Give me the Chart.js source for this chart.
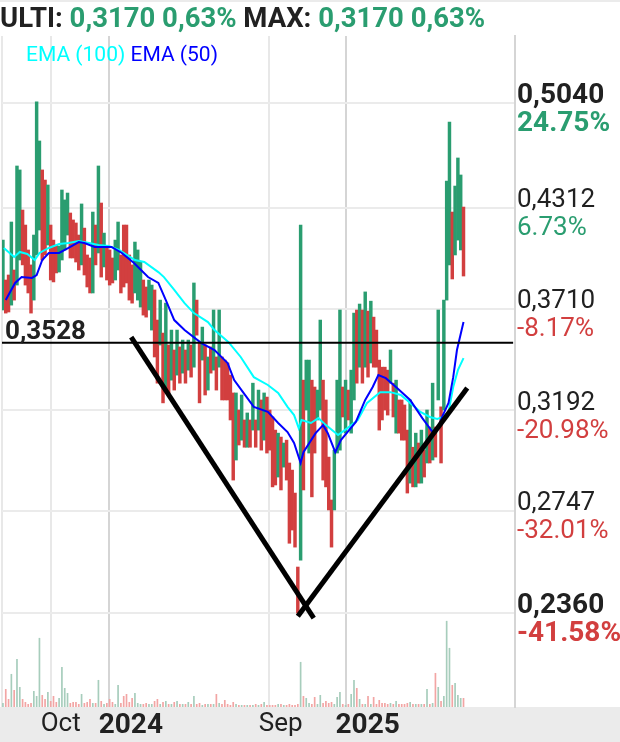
<!DOCTYPE html>
<html>
<head>
<meta charset="utf-8">
<script src="https://cdn.jsdelivr.net/npm/chart.js@4.4.1/dist/chart.umd.min.js"></script>
<style>
  html, body { margin: 0; padding: 0; background: #ffffff; }
  canvas { display: block; }
</style>
</head>
<body>
<canvas id="chart" width="620" height="742"></canvas>
<script>
// ---- price bars (one bar = 3 trading days), open / close ----
const opens = [
  0.3704,0.3873,0.3902,0.3731,0.3931,0.3844,0.3990,0.4298,0.4203,0.4050,
  0.3961,0.3759,0.4020,0.4172,0.4562,0.4494,0.4080,0.4203,0.4110,0.4080,
  0.3919,0.3990,0.4050,0.4141,0.4279,0.4235,0.4216,0.4141,0.3961,0.4184,
  0.4020,0.4002,0.3799,0.4203,0.4032,0.4343,0.3949,0.4068,0.4050,0.4002,
  0.3873,0.3931,0.4020,0.4203,0.4203,0.4020,0.3961,0.3799,0.3759,0.3720,
  0.3873,0.3833,0.3704,0.3595,0.3816,0.3649,0.3516,0.3579,0.3288,0.3516,
  0.3337,0.3490,0.3362,0.3506,0.3372,0.3490,0.3387,0.3516,0.3402,0.3759,
  0.3526,0.3438,0.3516,0.3288,0.3506,0.3387,0.3454,0.3402,0.3454,0.3438,
  0.3423,0.3362,0.3274,0.2963,0.3192,0.3052,0.3145,0.3020,0.3145,0.3098,
  0.3145,0.3098,0.3240,0.3052,0.3254,0.3192,0.3159,0.3098,0.2889,0.3066,
  0.2932,0.3052,0.2950,0.2919,0.2821,0.2527,0.2553,0.3337,0.3192,0.2994,
  0.3337,0.3303,0.3145,0.3192,0.3337,0.3240,0.2976,0.2792,0.2751,0.2994,
  0.3007,0.3303,0.3084,0.3288,0.3084,0.3240,0.3704,0.3402,0.3704,0.3402,
  0.3698,0.3423,0.3665,0.3595,0.3438,0.3402,0.3402,0.3387,0.3322,0.3322,
  0.3084,0.3240,0.3240,0.3216,0.3098,0.2863,0.3020,0.2847,0.3039,0.2863,
  0.3007,0.2950,0.3112,0.2963,0.3112,0.3240,0.3207,0.3192,0.3759,0.3961,
  0.4285,0.4020,0.4110,0.4050,0.4317
];
const closes = [
  0.4110,0.3687,0.3693,0.4222,0.3759,0.4589,0.4562,0.3961,0.3844,0.3799,
  0.3687,0.4141,0.5048,0.4763,0.3990,0.4020,0.4461,0.3873,0.3862,0.3914,
  0.4074,0.4428,0.4363,0.4408,0.4002,0.4002,0.3978,0.3931,0.4337,0.3902,
  0.3833,0.3799,0.4285,0.3961,0.4589,0.3890,0.4153,0.3873,0.3844,0.3856,
  0.4110,0.4222,0.3799,0.3833,0.3856,0.3759,0.3742,0.4098,0.4050,0.3978,
  0.3676,0.3665,0.3873,0.3844,0.3454,0.3322,0.3759,0.3226,0.3742,0.3274,
  0.3595,0.3288,0.3595,0.3322,0.3542,0.3322,0.3542,0.3352,0.3856,0.3568,
  0.3226,0.3611,0.3264,0.3454,0.3372,0.3704,0.3288,0.3704,0.3240,0.3240,
  0.3240,0.3145,0.2876,0.3274,0.3030,0.3264,0.3020,0.3178,0.3020,0.3322,
  0.3020,0.3288,0.3007,0.3274,0.2994,0.3007,0.2847,0.2855,0.3084,0.2834,
  0.3039,0.2876,0.2618,0.2670,0.2603,0.2360,0.4203,0.2834,0.3438,0.3438,
  0.2805,0.2994,0.3288,0.3649,0.2876,0.2847,0.2751,0.2603,0.3007,0.3337,
  0.3704,0.3159,0.3337,0.3145,0.3387,0.3687,0.3322,0.3737,0.3322,0.3805,
  0.3352,0.3753,0.3402,0.3402,0.3098,0.3145,0.3192,0.3168,0.3490,0.3159,
  0.3337,0.3084,0.3052,0.3052,0.2821,0.3240,0.2847,0.3084,0.2863,0.3098,
  0.2889,0.3192,0.2950,0.3322,0.2976,0.3704,0.2950,0.3759,0.4487,0.4899,
  0.3879,0.4454,0.4644,0.4528,0.3896
];
// volume per bar (thousand shares)
const volumes = [
  4,18,8,33,17,48,20,8,5,3, 4,16,11,69,12,8,15,6,11,5,
  9,40,19,14,4,5,5,3,13,4, 5,8,4,4,27,6,3,4,8,5,
  3,22,4,11,13,5,9,14,4,3, 3,4,3,3,6,8,3,5,6,3,
  3,5,6,3,3,3,5,3,11,3, 4,2,3,3,3,3,13,4,3,7,
  3,2,5,3,2,2,2,2,2,2, 3,2,3,5,2,2,2,2,3,3,
  2,2,3,2,2,3,45,11,9,4, 3,10,3,12,4,6,4,5,3,10,
  15,3,2,3,13,27,19,8,3,3, 11,3,10,3,7,4,4,3,4,3,
  6,3,3,3,4,5,3,3,3,3, 3,18,3,4,34,20,6,11,86,59,
  22,24,12,9,9
];
const daysPerBar = 3;

// ---- moving averages (trading day, price) ----
const ema50Days = [3,13,20,31,36,42,49,60,70,81,87,98,116,127,140,155,166,174,183,194,
  212,226,240,247,257,268,283,294,304,311,318,321,334,342,347,355,361,368,377,387,
  395,401,409,421,435,448,459,465,470,476,481,485,492];
const ema50 = [0.3759,0.3856,0.3890,0.3885,0.3902,0.3990,0.4032,0.4032,0.4062,0.4098,
  0.4092,0.4068,0.4068,0.4032,0.3972,0.3890,0.3856,0.3759,0.3649,0.3595,
  0.3526,0.3490,0.3423,0.3337,0.3274,0.3207,0.3183,0.3131,0.3089,0.3039,
  0.2950,0.2998,0.3084,0.3121,0.3084,0.2998,0.3052,0.3089,0.3136,0.3240,
  0.3303,0.3362,0.3347,0.3298,0.3240,0.3154,0.3089,0.3112,0.3168,0.3226,
  0.3352,0.3490,0.3638];
const ema100Days = [1,12,18,26,34,39,49,60,70,81,92,102,113,124,141,151,166,172,183,194,
  204,219,226,241,254,268,283,294,304,311,316,319,329,337,345,358,368,379,389,403,
  414,425,435,446,456,464,470,476,481,486,492];
const ema100 = [0.4062,0.4008,0.4038,0.4026,0.3990,0.4032,0.4062,0.4086,0.4092,0.4104,
  0.4092,0.4080,0.4074,0.4050,0.3990,0.3978,0.3919,0.3890,0.3816,0.3742,
  0.3687,0.3638,0.3595,0.3531,0.3454,0.3352,0.3313,0.3274,0.3207,0.3168,
  0.3107,0.3145,0.3131,0.3154,0.3121,0.3075,0.3107,0.3145,0.3226,0.3278,
  0.3278,0.3264,0.3226,0.3183,0.3159,0.3150,0.3159,0.3183,0.3303,0.3387,
  0.3448];

// ---- axes ----
const priceTicks  = [0.236, 0.2747, 0.3192, 0.371, 0.4312, 0.504];
const priceLabels = ['0,2360', '0,2747', '0,3192', '0,3710', '0,4312', '0,5040'];
const pctLabels   = ['-41.58%', '-32.01%', '-20.98%', '-8.17%', '6.73%', '24.75%'];
const dateTicks   = [-1, 51, 113, 284, 366];
const dateLabels  = ['', 'Oct', '2024', 'Sep', '2025'];
const yearTicks   = ['2024', '2025'];

// ---- drawn studies ----
const levelPrice = 0.3528;
const levelLabel = '0,3528';
const trendDownDays = [137, 332], trendDownPrices = [0.3558, 0.2342];
const trendUpDays = [315, 496], trendUpPrices = [0.2349, 0.3298];

// ---- header ----
const headerParts = [
  ['ULTI: ', 'dark'], ['0,3170 0,63% ', 'up'], ['MAX: ', 'dark'], ['0,3170 0,63%', 'up']
];

const GREEN = '#2a9d70';
const RED = '#d23f3f';
const VOL_GREEN = '#a7cdbc';
const VOL_RED = '#f2a5a4';
const DARK = '#212121';
const FONT = 'Roboto';

const isUp = i => closes[i] >= opens[i];

const xy = (days, vals) => days.map((d, i) => ({ x: d, y: vals[i] }));

const overlay = {
  id: 'overlay',
  beforeDraw(chart) {
    const ctx = chart.ctx;
    const area = chart.chartArea;
    ctx.save();
    ctx.fillStyle = '#ebebeb';
    ctx.fillRect(0, area.bottom, chart.width, chart.height - area.bottom);
    ctx.fillRect(0, 0, chart.width, 2);
    ctx.restore();
  },
  afterDraw(chart) {
    const ctx = chart.ctx;
    const ys = chart.scales.y;
    const xs = chart.scales.x;
    ctx.save();

    // percentage lines under the price labels
    ctx.textAlign = 'left';
    ctx.textBaseline = 'middle';
    priceTicks.forEach((v, i) => {
      const edge = i === 0 || i === priceTicks.length - 1;
      ctx.font = (edge ? 'bold 28px ' : '26px ') + FONT;
      ctx.fillStyle = pctLabels[i].startsWith('-') ? RED : GREEN;
      ctx.fillText(pctLabels[i], ys.left + 2, ys.getPixelForValue(v) + 21);
    });

    // level label
    ctx.textBaseline = 'alphabetic';
    ctx.font = 'bold 26px ' + FONT;
    ctx.fillStyle = DARK;
    ctx.fillText(levelLabel, xs.getPixelForValue(-1) + 3, ys.getPixelForValue(levelPrice) - 4);

    // header line
    ctx.font = 'bold 27.5px ' + FONT;
    let hx = 0;
    headerParts.forEach(([t, kind]) => {
      ctx.fillStyle = kind === 'up' ? GREEN : DARK;
      ctx.fillText(t, hx, 27);
      hx += ctx.measureText(t).width;
    });

    // indicator legend
    ctx.font = '21px ' + FONT;
    let lx = 26;
    ctx.fillStyle = '#00ffff';
    ctx.fillText('EMA (100) ', lx, 61);
    lx += ctx.measureText('EMA (100) ').width;
    ctx.fillStyle = '#0000ff';
    ctx.fillText('EMA (50)', lx, 61);

    ctx.restore();
  }
};

new Chart(document.getElementById('chart'), {
  type: 'bar',
  data: {
    datasets: [
      {
        type: 'line',
        data: [{ x: -1, y: levelPrice }, { x: 545, y: levelPrice }],
        borderColor: '#000000', borderWidth: 2, pointRadius: 0, yAxisID: 'y', order: 1
      },
      {
        type: 'line',
        data: xy(trendDownDays, trendDownPrices),
        borderColor: '#000000', borderWidth: 5, pointRadius: 0, yAxisID: 'y', order: 0
      },
      {
        type: 'line',
        data: xy(trendUpDays, trendUpPrices),
        borderColor: '#000000', borderWidth: 5, pointRadius: 0, yAxisID: 'y', order: 0
      },
      {
        type: 'line',
        data: xy(ema50Days, ema50),
        borderColor: '#0000ff', borderWidth: 2, pointRadius: 0, yAxisID: 'y', order: 2
      },
      {
        type: 'line',
        data: xy(ema100Days, ema100),
        borderColor: '#00ffff', borderWidth: 2, pointRadius: 0, yAxisID: 'y', order: 3
      },
      {
        type: 'bar',
        data: opens.map((o, i) => ({ x: i * daysPerBar, y: [o, closes[i]] })),
        backgroundColor: opens.map((o, i) => isUp(i) ? GREEN : RED),
        borderWidth: 0, grouped: false,
        barPercentage: 1, categoryPercentage: 1,
        yAxisID: 'y', order: 4
      },
      {
        type: 'bar',
        data: volumes.map((v, i) => ({ x: i * daysPerBar, y: v })),
        backgroundColor: volumes.map((v, i) => isUp(i) ? VOL_GREEN : VOL_RED),
        borderWidth: 0, grouped: false,
        barPercentage: 0.6, categoryPercentage: 1,
        yAxisID: 'yVol', order: 5
      }
    ]
  },
  options: {
    responsive: false,
    animation: false,
    devicePixelRatio: 1,
    layout: { padding: { top: 36, left: 0, right: 0, bottom: 0 } },
    plugins: { legend: { display: false }, tooltip: { enabled: false } },
    scales: {
      x: {
        type: 'linear', min: -1, max: 547, offset: false,
        afterBuildTicks: s => { s.ticks = dateTicks.map(v => ({ value: v })); },
        afterFit: s => { s.height = 35; },
        border: { display: false },
        grid: {
          offset: false, drawTicks: false, lineWidth: 2,
          color: c => yearTicks.includes(dateLabels[c.index]) ? '#d5d5d5' : '#e8e8e8'
        },
        ticks: {
          autoSkip: false, maxRotation: 0, align: 'start', labelOffset: -10, padding: 2,
          color: DARK,
          callback: (v, i) => dateLabels[i],
          font: c => yearTicks.includes(dateLabels[c.index])
            ? { family: FONT, size: 28, weight: 'bold' }
            : { family: FONT, size: 26, weight: 'normal' }
        }
      },
      y: {
        type: 'logarithmic', position: 'right', min: 0.2052, max: 0.5568, bounds: 'data',
        afterBuildTicks: s => { s.ticks = priceTicks.map(v => ({ value: v })); },
        afterFit: s => { s.width = 105; },
        border: { display: true, color: '#d5d5d5', width: 2 },
        grid: { color: '#ebebeb', lineWidth: 2, drawTicks: false },
        ticks: {
          autoSkip: false, padding: 2, labelOffset: -7, color: DARK,
          callback: (v, i) => priceLabels[i],
          font: c => (c.index === 0 || c.index === priceTicks.length - 1)
            ? { family: FONT, size: 28, weight: 'bold' }
            : { family: FONT, size: 26, weight: 'normal' }
        }
      },
      yVol: {
        type: 'linear', display: false, min: 0, max: 670
      }
    }
  },
  plugins: [overlay]
});
</script>
</body>
</html>
